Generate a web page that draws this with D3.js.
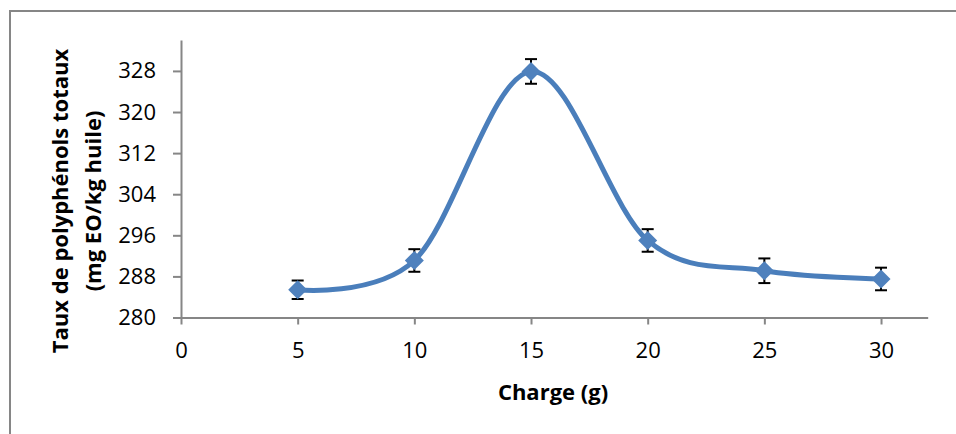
<!DOCTYPE html>
<html>
<head>
<meta charset="utf-8">
<script src="https://cdn.jsdelivr.net/npm/d3@7"></script>
<style>
  html, body { margin: 0; padding: 0; background: #fff; }
  svg { display: block; }
</style>
</head>
<body>
<svg id="chart" width="956" height="434"></svg>
<script>
// ---- data ----
const charge = [5, 10, 15, 20, 25, 30];
const polyphenols = [285.4, 291.1, 327.9, 295.0, 289.1, 287.5];
const errors = [1.8, 2.2, 2.4, 2.2, 2.4, 2.2];
const xTicks = [0, 5, 10, 15, 20, 25, 30];
const yTicks = [280, 288, 296, 304, 312, 320, 328];
const xTitle = "Charge (g)";
const yTitleLines = ["Taux de polyphénols totaux", "(mg EO/kg huile)"];

const svg = d3.select("#chart");
const font = "'Open Sans', 'DejaVu Sans', sans-serif";
const axisColor = "#868686";
const blue = "#4a7ebb";

// outer chart border
svg.append("rect")
  .attr("x", 10).attr("y", 11)
  .attr("width", 960).attr("height", 440)
  .attr("fill", "none").attr("stroke", axisColor).attr("stroke-width", 2);

const x = d3.scaleLinear().domain([0, 32]).range([181, 927.7]);
const y = d3.scaleLinear().domain([280, 334]).range([317.5, 40.1]);

// y axis
const yAxis = svg.append("g")
  .attr("transform", `translate(${x(0)},0)`)
  .call(d3.axisLeft(y).tickValues(yTicks).tickSize(8).tickSizeOuter(0).tickPadding(17));
// x axis
const xAxis = svg.append("g")
  .attr("transform", `translate(0,${y(280)})`)
  .call(d3.axisBottom(x).tickValues(xTicks).tickSize(7).tickSizeOuter(0).tickPadding(18));

[yAxis, xAxis].forEach(g => {
  g.select(".domain").attr("stroke", axisColor).attr("stroke-width", 2);
  g.selectAll(".tick line").attr("stroke", axisColor).attr("stroke-width", 2);
  g.selectAll(".tick text")
    .attr("fill", "#000")
    .style("font-family", font)
    .style("font-size", "22px");
});
xAxis.selectAll(".tick text").attr("dy", "0.71em");

// line
const pts = charge.map((c, i) => [x(c), y(polyphenols[i])]);
svg.append("path")
  .attr("d", d3.line().curve(d3.curveCardinal.tension(0))(pts))
  .attr("fill", "none")
  .attr("stroke", blue)
  .attr("stroke-width", 5)
  .attr("stroke-linecap", "round");

// error bars
const eb = svg.append("g").attr("stroke", "#000").attr("stroke-width", 2);
charge.forEach((c, i) => {
  const cx = x(c), y0 = y(polyphenols[i] - errors[i]), y1 = y(polyphenols[i] + errors[i]);
  eb.append("line").attr("x1", cx).attr("x2", cx).attr("y1", y0).attr("y2", y1);
  eb.append("line").attr("x1", cx - 6).attr("x2", cx + 6).attr("y1", y0).attr("y2", y0);
  eb.append("line").attr("x1", cx - 6).attr("x2", cx + 6).attr("y1", y1).attr("y2", y1);
});

// markers
svg.append("g").selectAll("path")
  .data(charge.map((c, i) => [c, polyphenols[i]]))
  .join("path")
  .attr("transform", d => `translate(${x(d[0])},${y(d[1])})`)
  .attr("d", "M0,-9.5L9.5,0L0,9.5L-9.5,0Z")
  .attr("fill", "#4f81bd");

// axis titles
svg.append("text")
  .attr("x", 553).attr("y", 400)
  .attr("text-anchor", "middle")
  .style("font-family", font).style("font-weight", "bold").style("font-size", "22px")
  .text(xTitle);

const yt = svg.append("g").attr("transform", "translate(0,201) rotate(-90)");
yt.append("text")
  .attr("x", 0).attr("y", 67.5)
  .attr("text-anchor", "middle")
  .style("font-family", font).style("font-weight", "bold").style("font-size", "22px")
  .text(yTitleLines[0]);
yt.append("text")
  .attr("x", 0).attr("y", 101)
  .attr("text-anchor", "middle")
  .style("font-family", font).style("font-weight", "bold").style("font-size", "22px")
  .text(yTitleLines[1]);
</script>
</body>
</html>
